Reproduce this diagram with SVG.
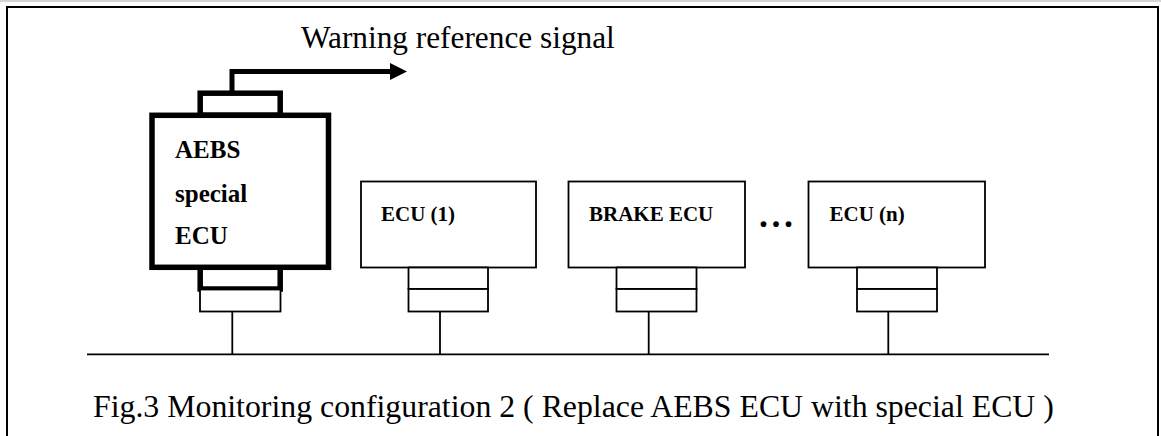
<svg xmlns="http://www.w3.org/2000/svg" width="1161" height="436" viewBox="0 0 1161 436">
<style>
.thin{fill:#fff;stroke:#000;stroke-width:1.8}
.thick{fill:#fff;stroke:#000;stroke-width:5.5}
.line{fill:none;stroke:#000;stroke-width:1.8}
.lbl{font-family:"Liberation Serif","Times New Roman",serif;font-weight:bold;fill:#000}
.reg{font-family:"Liberation Serif","Times New Roman",serif;fill:#000}
</style>
<defs>
<marker id="ah" viewBox="0 0 17 17" refX="0" refY="8.5" markerWidth="17" markerHeight="17" markerUnits="userSpaceOnUse" orient="auto">
<path d="M0,0 L17,8.5 L0,17 Z" fill="#000"/>
</marker>
</defs>
<rect x="0" y="0" width="1161" height="436" fill="#fff"/>
<rect x="0" y="0" width="1161" height="2" fill="#d4d4d4"/>
<path d="M7,436 V7 H1158 V436" fill="none" stroke="#000" stroke-width="2"/>
<text class="reg" x="301" y="47.5" font-size="31.3">Warning reference signal</text>
<g id="connectors">
<path d="M232,93 V71.5 H390" fill="none" stroke="#000" stroke-width="5" marker-end="url(#ah)"/>
<line class="line" x1="87" y1="354.3" x2="1049" y2="354.3" stroke-width="2"/>
<line class="line" x1="232.3" y1="311.5" x2="232.3" y2="354"/>
<line class="line" x1="440" y1="311.5" x2="440" y2="354"/>
<line class="line" x1="648.7" y1="311.5" x2="648.7" y2="354"/>
<line class="line" x1="888.3" y1="311.5" x2="888.3" y2="354"/>
</g>
<g id="aebs-ecu">
<rect class="thick" x="200.2" y="93.2" width="80" height="22"/>
<rect class="thick" x="200.2" y="267" width="80" height="22"/>
<rect class="thin" x="200" y="289.5" width="80.5" height="22"/>
<rect class="thick" x="152" y="115.3" width="176.5" height="152"/>
<text class="lbl" x="175" y="158.3" font-size="25">AEBS</text>
<text class="lbl" x="175" y="201.7" font-size="25">special</text>
<text class="lbl" x="175" y="243.5" font-size="25">ECU</text>
</g>
<g id="ecu-1">
<rect class="thin" x="361" y="181.5" width="175" height="86"/>
<rect class="thin" x="408.5" y="267.5" width="79.5" height="21.5"/>
<rect class="thin" x="408.5" y="289" width="79.5" height="22.5"/>
<text class="lbl" x="381" y="221" font-size="21">ECU (1)</text>
</g>
<g id="brake-ecu">
<rect class="thin" x="568.5" y="181.5" width="176.5" height="86"/>
<rect class="thin" x="616.5" y="267.5" width="80" height="21.5"/>
<rect class="thin" x="616.5" y="289" width="80" height="22.5"/>
<text class="lbl" x="589" y="221" font-size="21">BRAKE ECU</text>
</g>
<text class="lbl" x="759" y="227" font-size="36" letter-spacing="3.5">...</text>
<g id="ecu-n">
<rect class="thin" x="808.5" y="181.5" width="176.5" height="86"/>
<rect class="thin" x="857" y="267.5" width="80" height="21.5"/>
<rect class="thin" x="857" y="289" width="80" height="22.5"/>
<text class="lbl" x="829.5" y="221" font-size="21">ECU (n)</text>
</g>
<text class="reg" x="93" y="417.3" font-size="31.8">Fig.3 Monitoring configuration 2 ( Replace AEBS ECU with special ECU )</text>
</svg>
